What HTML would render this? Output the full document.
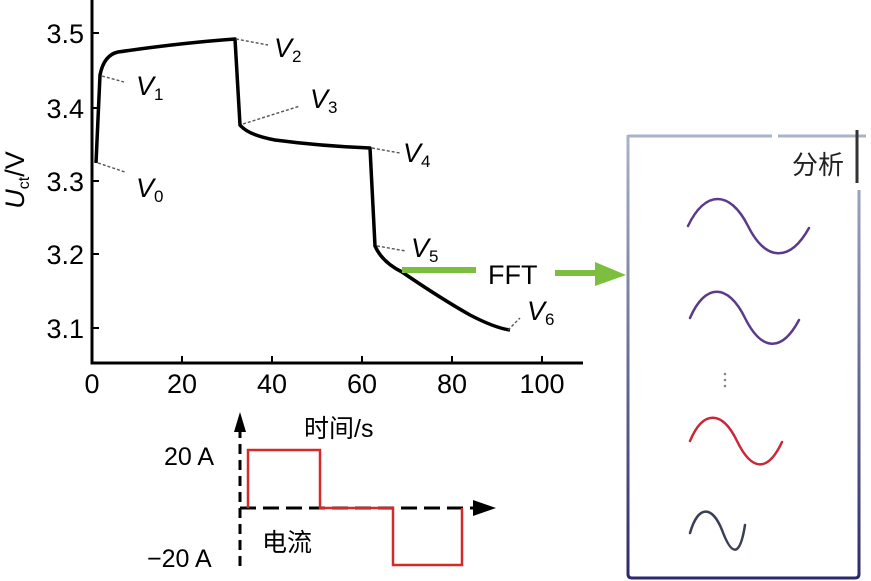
<!DOCTYPE html>
<html><head><meta charset="utf-8"><style>
body{margin:0;background:#fff;}
svg{display:block;font-family:"Liberation Sans","Noto Sans CJK SC",sans-serif;}
</style></head><body>
<svg width="871" height="581" viewBox="0 0 871 581" xmlns="http://www.w3.org/2000/svg">
<defs>
<linearGradient id="bx" x1="0" y1="0" x2="0" y2="1"><stop offset="0" stop-color="#aab4c8"/><stop offset="1" stop-color="#2a2a6a"/></linearGradient>
</defs>
<path d="M92,0 V363 H583" stroke="#000" stroke-width="3" fill="none"/>
<g stroke="#000" stroke-width="2">
<line x1="92" y1="33" x2="99" y2="33"/><line x1="92" y1="108" x2="99" y2="108"/><line x1="92" y1="181" x2="99" y2="181"/><line x1="92" y1="254" x2="99" y2="254"/><line x1="92" y1="328" x2="99" y2="328"/>
<line x1="182" y1="363" x2="182" y2="356"/><line x1="272" y1="363" x2="272" y2="356"/><line x1="362" y1="363" x2="362" y2="356"/><line x1="452" y1="363" x2="452" y2="356"/><line x1="542" y1="363" x2="542" y2="356"/>
</g>
<g font-size="27" fill="#000" text-anchor="end">
<text x="84" y="43">3.5</text><text x="84" y="118">3.4</text><text x="84" y="191">3.3</text><text x="84" y="264">3.2</text><text x="84" y="338">3.1</text>
</g>
<g font-size="27" fill="#000" text-anchor="middle">
<text x="92" y="393">0</text><text x="182" y="393">20</text><text x="272" y="393">40</text><text x="362" y="393">60</text><text x="452" y="393">80</text><text x="542" y="393">100</text>
</g>
<text transform="translate(24,180) rotate(-90)" font-size="27" text-anchor="middle"><tspan font-style="italic">U</tspan><tspan font-size="16" dy="5">ct</tspan><tspan dy="-5">/V</tspan></text>
<path d="M96,163 L100,75 Q104,55 118,52 Q180,43 235,39 L240,125 Q248,135 275,140 Q320,146 370,148 L375,246 Q382,262 402,272 Q440,298 470,315 Q495,328 510,330" stroke="#000" stroke-width="3.5" fill="none" stroke-linejoin="round"/>
<g stroke="#555" stroke-width="1.4" stroke-dasharray="3,2" fill="none">
<line x1="98" y1="163" x2="125" y2="172"/><line x1="102" y1="76" x2="124" y2="82"/><line x1="236" y1="39" x2="268" y2="45"/><line x1="243" y1="124" x2="300" y2="106"/><line x1="372" y1="148" x2="400" y2="153"/><line x1="377" y1="246" x2="406" y2="251"/><line x1="508" y1="330" x2="520" y2="318"/>
</g>
<g font-size="27" font-style="italic" fill="#000">
<text x="136" y="197">V<tspan font-size="17" font-style="normal" dy="5">0</tspan></text>
<text x="136" y="95">V<tspan font-size="17" font-style="normal" dy="5">1</tspan></text>
<text x="274" y="57">V<tspan font-size="17" font-style="normal" dy="5">2</tspan></text>
<text x="310" y="108">V<tspan font-size="17" font-style="normal" dy="5">3</tspan></text>
<text x="403" y="162">V<tspan font-size="17" font-style="normal" dy="5">4</tspan></text>
<text x="411" y="257">V<tspan font-size="17" font-style="normal" dy="5">5</tspan></text>
<text x="527" y="320">V<tspan font-size="17" font-style="normal" dy="5">6</tspan></text>
</g>
<line x1="402" y1="270" x2="476" y2="270" stroke="#7cbf3e" stroke-width="6"/>
<text x="488" y="284" font-size="27">FFT</text>
<line x1="555" y1="273" x2="600" y2="273" stroke="#7cbf3e" stroke-width="6"/>
<polygon points="595,262 626,275 595,286" fill="#7cbf3e"/>
<path d="M628,135 V574 Q628,578 632,578 H855 Q859,578 859,574 V190" stroke="url(#bx)" stroke-width="3" fill="none"/>
<line x1="628" y1="136" x2="772" y2="136" stroke="#aab4c8" stroke-width="3"/>
<line x1="778" y1="136" x2="866" y2="136" stroke="#aab4c8" stroke-width="3"/>
<line x1="857" y1="130" x2="857" y2="183" stroke="#333" stroke-width="3"/>
<text x="792" y="174" font-size="26" fill="#222">分析</text>
<g fill="none" stroke-width="2.5" stroke-linecap="round">
<path d="M688,226 C705,190 730,190 748,226 C766,262 790,262 809,228" stroke="#5b3a8c"/>
<path d="M690,318 C705,283 728,283 745,318 C762,352 782,352 799,320" stroke="#5b3a8c"/>
<path d="M690,441 C703,410 722,410 737,441 C752,472 768,472 782,442" stroke="#c8283a"/>
<path d="M690,533 C698,505 712,505 722,530 C732,557 740,557 745,525" stroke="#3a3f55"/>
</g>
<g fill="#888"><circle cx="725" cy="374" r="1.3"/><circle cx="725" cy="380" r="1.3"/><circle cx="725" cy="386" r="1.3"/></g>
<line x1="240" y1="428" x2="240" y2="572" stroke="#000" stroke-width="3" stroke-dasharray="10,6"/>
<polygon points="234,432 240,412 246,432" fill="#000"/>
<line x1="240" y1="508" x2="475" y2="508" stroke="#000" stroke-width="3" stroke-dasharray="16,7"/>
<polygon points="473,500 496,508 473,516" fill="#000"/>
<path d="M248,508 V450 H320 V508 H393 V565 H462 V508" stroke="#d42a2a" stroke-width="2.5" fill="none"/>
<text x="164" y="465" font-size="25">20 A</text>
<text x="147" y="567" font-size="25">−20 A</text>
<text x="304" y="437" font-size="25">时间/s</text>
<text x="262" y="551" font-size="25">电流</text>
</svg>
</body></html>
